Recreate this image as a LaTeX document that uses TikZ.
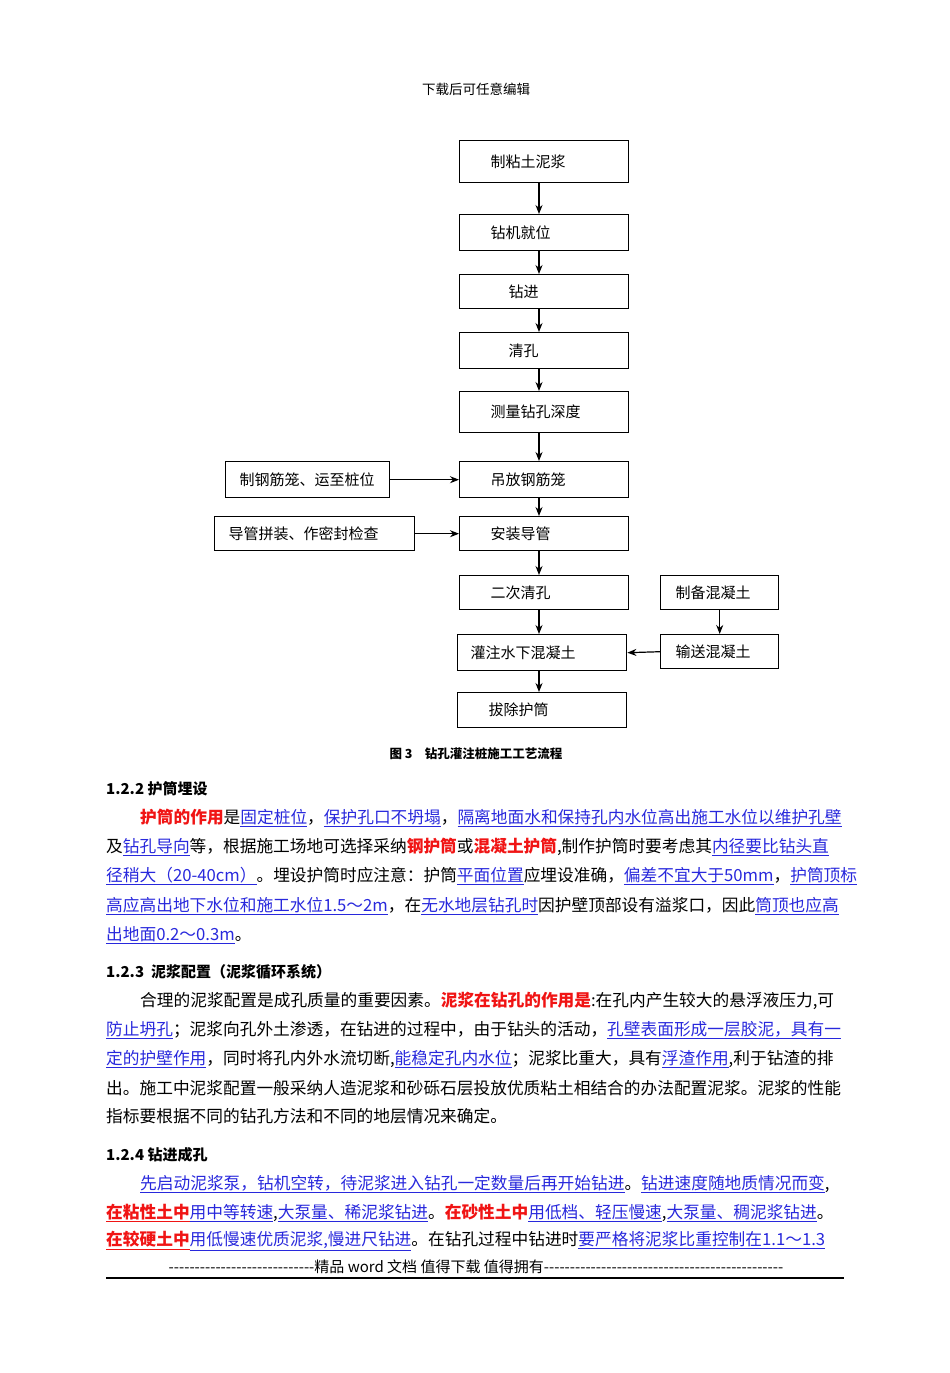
\documentclass[tikz,border=0pt]{standalone}
\usepackage{fontspec}
\setmainfont{Noto Sans CJK SC}
\usetikzlibrary{arrows.meta}
\definecolor{lb}{RGB}{40,40,220}
\definecolor{rd}{RGB}{240,20,20}
\newcommand{\lk}[1]{\textcolor{lb}{\underline{#1}}}
\newcommand{\rb}[1]{\textcolor{rd}{\bfseries #1}}
\begin{document}
\begin{tikzpicture}[x=1pt,y=-1pt,
  bx/.style={draw,line width=1.4pt,anchor=north west,align=left,font=\fontsize{15}{17}\selectfont,inner ysep=0pt},
  ar/.style={line width=1.2pt,-{Stealth[length=9pt,width=7pt]}},
  ln/.style={anchor=west,inner sep=0pt,font=\fontsize{16.7}{18}\selectfont},
  hd/.style={anchor=west,inner sep=0pt,font=\fontsize{15}{17}\selectfont\bfseries}]
\useasboundingbox (0,0) rectangle (950,1373);
\node[inner sep=0pt,font=\fontsize{13.5}{15}\selectfont] (hdr) at (476,89) {下载后可任意编辑};
\node[bx,text width=107pt,inner xsep=31pt,minimum height=42pt] (a) at (459,140) {制粘土泥浆};
\node[bx,text width=107pt,inner xsep=31pt,minimum height=36pt] (b) at (459,214) {钻机就位};
\node[bx,text width=71pt,inner xsep=49pt,minimum height=34pt] (c) at (459,274) {钻进};
\node[bx,text width=71pt,inner xsep=49pt,minimum height=36pt] (d) at (459,332) {清孔};
\node[bx,text width=107pt,inner xsep=31pt,minimum height=41pt] (e) at (459,391) {测量钻孔深度};
\node[bx,text width=107pt,inner xsep=31pt,minimum height=36pt] (f) at (459,461) {吊放钢筋笼};
\node[bx,text width=136pt,inner xsep=14pt,minimum height=36pt] (g) at (225,461) {制钢筋笼、运至桩位};
\node[bx,text width=107pt,inner xsep=31pt,minimum height=34pt] (h) at (459,516) {安装导管};
\node[bx,text width=172pt,inner xsep=14pt,minimum height=34pt] (i) at (214,516) {导管拼装、作密封检查};
\node[bx,text width=107pt,inner xsep=31pt,minimum height=34pt] (j) at (459,575) {二次清孔};
\node[bx,text width=88pt,inner xsep=15pt,minimum height=34pt] (k) at (660,575) {制备混凝土};
\node[bx,text width=143pt,inner xsep=13pt,minimum height=36pt] (l) at (457,634) {灌注水下混凝土};
\node[bx,text width=88pt,inner xsep=15pt,minimum height=34pt] (m) at (660,634) {输送混凝土};
\node[bx,text width=107pt,inner xsep=31pt,minimum height=35pt] (n) at (457,692) {拔除护筒};
\coordinate (vx) at (539,0);
\foreach \p/\q in {a/b,b/c,c/d,d/e,e/f,f/h,h/j,j/l,l/n}
  \draw[ar] (\p.south -| vx) -- (\q.north -| vx);
\draw[ar] (g.east) -- (f.west);
\draw[ar] (i.east) -- (h.west);
\draw[ar] (k.south) -- (m.north);
\draw[ar] (m.west) -- (l.east);
\node[inner sep=0pt,font=\fontsize{12.5}{14}\selectfont\bfseries] (cap) at (476,754) {图\ 3\quad 钻孔灌注桩施工工艺流程};
% 1.2.2
\node[hd] (h1) at (106,789) {1.2.2 护筒埋设};
\node[ln] (p1) at (140,818) {\rb{护筒的作用}是\lk{固定桩位}，\lk{保护孔口不坍塌}，\lk{隔离地面水和保持孔内水位高出施工水位以维护孔壁}};
\node[ln] (p2) at (106,847) {及\lk{钻孔导向}等，根据施工场地可选择采纳\rb{钢护筒}或\rb{混凝土护筒},制作护筒时要考虑其\lk{内径要比钻头直}};
\node[ln] (p3) at (106,876) {\lk{径稍大（20-40cm）}。埋设护筒时应注意：护筒\lk{平面位置}应埋设准确，\lk{偏差不宜大于50mm}，\lk{护筒顶标}};
\node[ln] (p4) at (106,906) {\lk{高应高出地下水位和施工水位1.5～2m}，在\lk{无水地层钻孔时}因护壁顶部设有溢浆口，因此\lk{筒顶也应高}};
\node[ln] (p5) at (106,935) {\lk{出地面0.2～0.3m}。};
% 1.2.3
\node[hd] (h2) at (106,972) {1.2.3\ \ 泥浆配置（泥浆循环系统）};
\node[ln] (q1) at (140,1001) {合理的泥浆配置是成孔质量的重要因素。\rb{泥浆在钻孔的作用是}:在孔内产生较大的悬浮液压力,可};
\node[ln] (q2) at (106,1030) {\lk{防止坍孔}；泥浆向孔外土渗透，在钻进的过程中，由于钻头的活动，\lk{孔壁表面形成一层胶泥，具有一}};
\node[ln] (q3) at (106,1059) {\lk{定的护壁作用}，同时将孔内外水流切断,\lk{能稳定孔内水位}；泥浆比重大，具有\lk{浮渣作用},利于钻渣的排};
\node[ln] (q4) at (106,1088) {出。施工中泥浆配置一般采纳人造泥浆和砂砾石层投放优质粘土相结合的办法配置泥浆。泥浆的性能};
\node[ln] (q5) at (106,1116) {指标要根据不同的钻孔方法和不同的地层情况来确定。};
% 1.2.4
\node[hd] (h3) at (106,1155) {1.2.4 钻进成孔};
\node[ln] (r1) at (140,1184) {\lk{先启动泥浆泵，钻机空转，待泥浆进入钻孔一定数量后再开始钻进}。\lk{钻进速度随地质情况而变},};
\node[ln] (r2) at (106,1213) {\rb{\underline{在粘性土中}}\lk{用中等转速},\lk{大泵量、稀泥浆钻进}。\rb{在砂性土中}\lk{用低档、轻压慢速},\lk{大泵量、稠泥浆钻进}。};
\node[ln] (r3) at (106,1241) {\rb{\underline{在较硬土中}}\lk{用低慢速优质泥浆,慢进尺钻进}。在钻孔过程中钻进时\lk{要严格将泥浆比重控制在1.1～1.3}};
\node[inner sep=0pt,font=\fontsize{15}{17}\selectfont\addfontfeatures{Ligatures=TeXOff}] (ft) at (476,1267) {----------------------------精品 word 文档 值得下载 值得拥有----------------------------------------------};
\coordinate (r0) at (106,1278);
\coordinate (r9) at (844,1278);
\draw[line width=1.5pt] (r0) -- (r9);
\end{tikzpicture}
\end{document}
